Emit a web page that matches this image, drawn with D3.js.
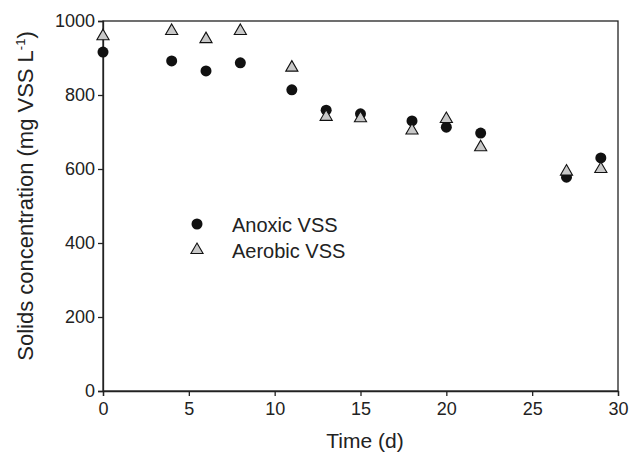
<!DOCTYPE html>
<html>
<head>
<script src="https://d3js.org/d3.v7.min.js"></script>
<style>
body { margin: 0; background: #fff; }
text { font-family: "Liberation Sans", Arial, sans-serif; fill: #222; }
</style>
</head>
<body>
<svg id="chart" width="632" height="452"></svg>
<script>
var days = [0, 4, 6, 8, 11, 13, 15, 18, 20, 22, 27, 29];
var anoxic = [916, 892, 865, 887, 814, 759, 749, 730, 713, 697, 578, 630];
var aerobic = [959, 973, 951, 973, 874, 741, 737, 704, 735, 659, 593, 600];
var xTicks = [0, 5, 10, 15, 20, 25, 30];
var yTicks = [0, 200, 400, 600, 800, 1000];

var mLeft = 103, mRight = 618, mTop = 21, mBottom = 391;

var x = d3.scaleLinear().domain([0, 30]).range([mLeft, mRight]);
var y = d3.scaleLinear().domain([0, 1000]).range([mBottom, mTop]);

var svg = d3.select("#chart");

// frame
svg.append("rect")
    .attr("x", mLeft).attr("y", mTop)
    .attr("width", mRight - mLeft).attr("height", mBottom - mTop)
    .attr("fill", "none").attr("stroke", "#222").attr("stroke-width", 1.3);

var xAxis = svg.append("g")
    .attr("transform", "translate(0," + mBottom + ")")
    .call(d3.axisBottom(x).tickValues(xTicks).tickSize(5).tickPadding(6));
var yAxis = svg.append("g")
    .attr("transform", "translate(" + mLeft + ",0)")
    .call(d3.axisLeft(y).tickValues(yTicks).tickSize(5).tickPadding(3).tickFormat(d3.format("d")));

[xAxis, yAxis].forEach(function(a) {
    a.select(".domain").attr("stroke", "#222").attr("stroke-width", 1.3);
    a.selectAll(".tick line").attr("stroke", "#222").attr("stroke-width", 1.3);
    a.selectAll(".tick text").style("font-size", "18px").attr("fill", "#222");
});

var tri = d3.symbol().type(d3.symbolTriangle).size(64);

// anoxic circles
svg.append("g").selectAll("circle")
    .data(days)
    .enter().append("circle")
    .attr("cx", function(d) { return x(d); })
    .attr("cy", function(d, i) { return y(anoxic[i]); })
    .attr("r", 5.5)
    .attr("fill", "#111");

// aerobic triangles
svg.append("g").selectAll("path")
    .data(days)
    .enter().append("path")
    .attr("d", tri)
    .attr("transform", function(d, i) { return "translate(" + x(d) + "," + y(aerobic[i]) + ")"; })
    .attr("fill", "#c8c8c8")
    .attr("stroke", "#111")
    .attr("stroke-width", 1.1);

// legend
svg.append("circle").attr("cx", 197).attr("cy", 224).attr("r", 5.5).attr("fill", "#111");
svg.append("path").attr("d", tri)
    .attr("transform", "translate(197,250)")
    .attr("fill", "#c8c8c8").attr("stroke", "#111").attr("stroke-width", 1.1);
svg.append("text").attr("x", 232).attr("y", 232).style("font-size", "20px").text("Anoxic VSS");
svg.append("text").attr("x", 232).attr("y", 258).style("font-size", "20px").text("Aerobic VSS");

// axis labels
svg.append("text")
    .attr("x", 365).attr("y", 448)
    .attr("text-anchor", "middle")
    .style("font-size", "21px")
    .text("Time (d)");

var yl = svg.append("text")
    .attr("transform", "translate(33,196) rotate(-90)")
    .attr("text-anchor", "middle")
    .style("font-size", "22px");
yl.append("tspan").text("Solids concentration (mg VSS L");
yl.append("tspan").attr("dy", -8).style("font-size", "13px").text("-1");
yl.append("tspan").attr("dy", 8).text(")");
</script>
</body>
</html>
